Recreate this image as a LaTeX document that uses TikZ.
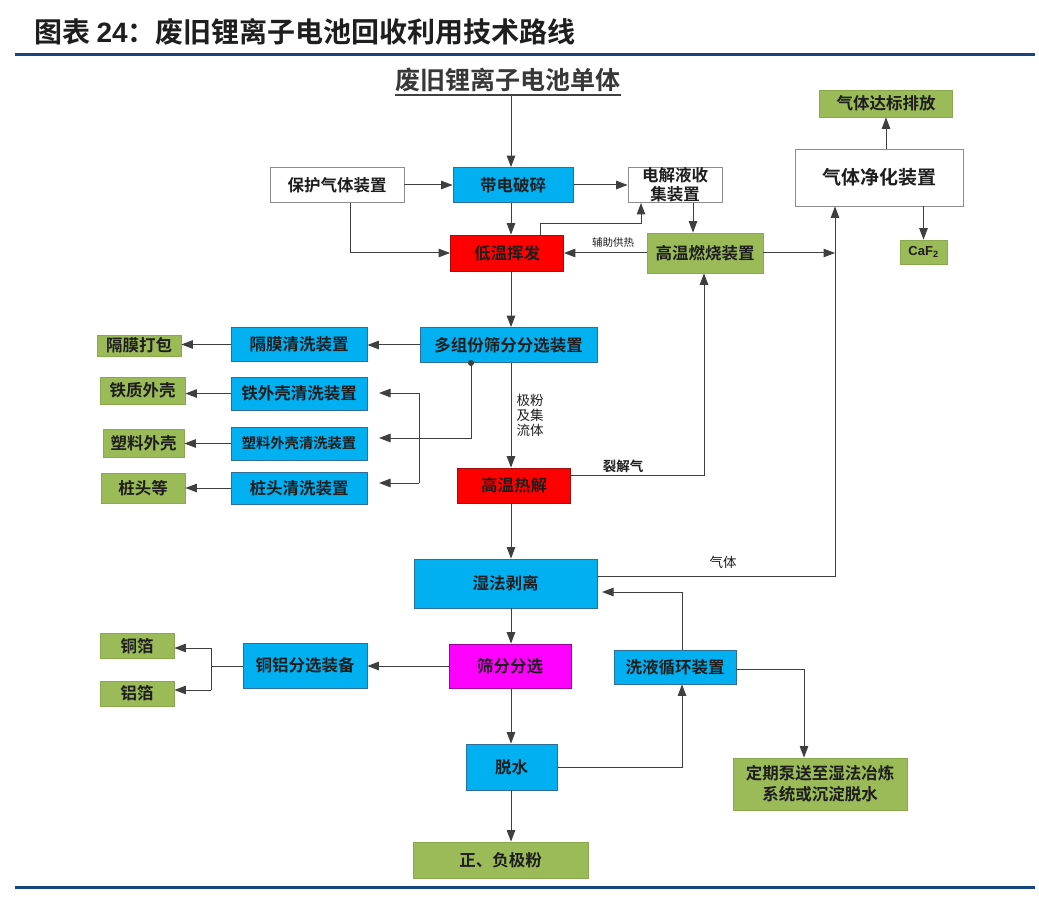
\documentclass[tikz,border=0pt]{standalone}
\usepackage{fontspec}
\setmainfont{Noto Sans CJK SC}[BoldFont={Noto Sans CJK SC Bold}]
\newfontfamily\arialf{Liberation Sans}
\usetikzlibrary{arrows.meta,calc}
\definecolor{cblue}{HTML}{00B0F0}
\definecolor{cblueD}{HTML}{2F6E96}
\definecolor{cred}{HTML}{FF0000}
\definecolor{credD}{HTML}{A01010}
\definecolor{cgreen}{HTML}{9BBB59}
\definecolor{cgreenD}{HTML}{8AA84E}
\definecolor{cmag}{HTML}{FF00FF}
\definecolor{cmagD}{HTML}{A000A0}
\definecolor{cgray}{HTML}{8C8C8C}
\definecolor{lc}{HTML}{3F3F3F}
\definecolor{txt}{HTML}{1E1E1E}
\definecolor{rulec}{HTML}{17467E}
\begin{document}
\begin{tikzpicture}[x=1pt,y=-1pt,
  wh/.style 2 args={minimum width=#1pt,minimum height=#2pt},
  box/.style={inner sep=0pt, line width=0.8pt, text=txt, align=center,
    font=\fontsize{16.5}{19}\selectfont\bfseries},
  bl/.style={box, fill=cblue, draw=cblueD},
  rd/.style={box, fill=cred, draw=credD},
  gr/.style={box, fill=cgreen, draw=cgreenD},
  mg/.style={box, fill=cmag, draw=cmagD},
  wt/.style={box, fill=white, draw=cgray},
  lbl/.style={inner sep=0pt, text=txt, align=center},
  arr/.style={draw=lc, line width=1pt, -{Triangle[length=11.5pt,width=8.5pt]}},
  ln/.style={draw=lc, line width=1pt},
  rule/.style={draw=rulec, line width=2.2pt}]
\useasboundingbox (0,0) rectangle (1039,901);
\fill[white] (0,0) rectangle (1039,901);

% title and rules
\node[lbl, anchor=west, font=\fontsize{28}{30}\selectfont\bfseries] (title) at (34,32)
  {图表 {\arialf 24}：废旧锂离子电池回收利用技术路线};
\draw[rule] (15,54.5) -- (1035,54.5);
\draw[rule] (15,887.5) -- (1035,887.5);

% spine
\coordinate (sp) at (511,0);

% nodes
\node[lbl, font=\fontsize{25}{27}\selectfont\bfseries, text=black!78] (src) at (508,80) {废旧锂离子电池单体};
\draw[draw=black!75, line width=1.3pt] ($(src.south west)+(0,3)$) -- ($(src.south east)+(0,3)$);

\node[wt, wh={134}{35}] (prot) at (337,185) {保护气体装置};
\node[bl, wh={120}{35}] (crush) at (513,185) {带电破碎};
\node[wt, wh={94}{35}, font=\fontsize{16.5}{19.5}\selectfont\bfseries] (elec) at (675,185) {电解液收\\集装置};
\node[rd, wh={113}{36}] (low) at (507,253) {低温挥发};
\node[gr, wh={116}{40}] (high) at (705,253) {高温燃烧装置};
\node[gr, wh={133}{27}] (emit) at (886,103.5) {气体达标排放};
\node[wt, wh={168}{57}, font=\fontsize{19}{21}\selectfont\bfseries] (purify) at (879,177.5) {气体净化装置};
\node[gr, wh={47}{24}, font=\arialf\fontsize{13}{15}\selectfont\bfseries] (caf) at (923.5,252) {CaF\textsubscript{2}};

\node[bl, wh={177}{35}] (multi) at (508.5,345) {多组份筛分分选装置};
\node[bl, wh={136}{34}] (memw) at (299,344.5) {隔膜清洗装置};
\node[gr, wh={84}{21}] (mempk) at (139,345.5) {隔膜打包};
\node[bl, wh={136}{33}] (fe) at (299,393.5) {铁外壳清洗装置};
\node[gr, wh={85}{27}] (feo) at (142.5,390.5) {铁质外壳};
\node[bl, wh={136}{33}, font=\fontsize{14.3}{17}\selectfont\bfseries] (pl) at (299,443.5) {塑料外壳清洗装置};
\node[gr, wh={81}{28}] (plo) at (143.5,443) {塑料外壳};
\node[bl, wh={136}{32}] (pile) at (299,488) {桩头清洗装置};
\node[gr, wh={84}{30}] (pileo) at (143,488) {桩头等};

\node[rd, wh={113}{35}] (pyro) at (514,485.5) {高温热解};
\node[bl, wh={183}{49}] (wet) at (505.5,583.5) {湿法剥离};
\node[mg, wh={122}{44}] (sieve) at (510,666) {筛分分选};
\node[bl, wh={124}{45}] (cual) at (305,665.5) {铜铝分选装备};
\node[gr, wh={74}{25}] (cu) at (137,646) {铜箔};
\node[gr, wh={74}{25}] (al) at (137,693.5) {铝箔};
\node[bl, wh={122}{34}] (wash) at (675,667) {洗液循环装置};
\node[bl, wh={91}{46}] (dew) at (511.5,767) {脱水};
\node[gr, wh={174}{52}, font=\fontsize{16.5}{21}\selectfont\bfseries] (pump) at (820,784) {定期泵送至湿法冶炼\\系统或沉淀脱水};
\node[gr, wh={175}{36}] (powder) at (500.5,860) {正、负极粉};

% labels
\node[lbl, font=\fontsize{10.5}{12}\selectfont] (l1) at (613,243) {辅助供热};
\node[lbl, font=\fontsize{13.5}{15}\selectfont] (l2) at (530,415) {极粉\\及集\\流体};
\node[lbl, font=\fontsize{13.5}{15}\selectfont\bfseries] (l3) at (623,466) {裂解气};
\node[lbl, font=\fontsize{13.5}{15}\selectfont] (l4) at (723,562) {气体};

% helper coordinates
\coordinate (p1) at (350,0);
\coordinate (c540) at (540,224);
\coordinate (c641) at (641,224);
\coordinate (c693) at (693,0);
\coordinate (gv) at (835,576);
\coordinate (dot) at (471,363);
\coordinate (plin) at (379,438);
\coordinate (v1) at (419,393);
\coordinate (v2) at (419,483);
\coordinate (fein) at (379,393);
\coordinate (pilein) at (379,483);
\coordinate (py) at (704,475);
\coordinate (br) at (211,666);
\coordinate (br1) at (211,648);
\coordinate (br2) at (211,690);
\coordinate (wr) at (682,592);
\coordinate (wetin) at (602,592);
\coordinate (pr) at (804,669);

% connectors
\draw[arr] ($(src.south -| sp)+(0,3)$) -- (crush.north -| sp);
\draw[arr] (prot.east) -- (prot.east -| crush.west);
\draw[arr] (crush.east) -- (crush.east -| elec.west);
\draw[arr] (crush.south -| sp) -- (low.north -| sp);
\draw[arr] (prot.south -| p1) |- (low.west);
\draw[arr] (low.north -| c540) -- (c540) -- (c641) -- (elec.south -| c641);
\draw[arr] (elec.south -| c693) -- (high.north -| c693);
\draw[arr] (high.west) -- (low.east);
\draw[arr] (high.east) -- (high.east -| gv);
\draw[arr] (wet.east |- gv) -- (gv) -- (purify.south -| gv);
\draw[arr] (purify.north -| emit.south) -- (emit.south);
\draw[arr] (purify.south -| caf.north) -- (caf.north);

\draw[arr] (low.south -| sp) -- (multi.north -| sp);
\draw[arr] (multi.west) -- (multi.west -| memw.east);
\draw[arr] (memw.west) -- (memw.west -| mempk.east);
\draw[arr] (fe.west) -- (fe.west -| feo.east);
\draw[arr] (pl.west) -- (pl.west -| plo.east);
\draw[arr] (pile.west) -- (pile.west -| pileo.east);
\fill[lc] (dot) circle (3pt);
\draw[arr] (dot) |- (plin);
\draw[ln] (v1) -- (v2);
\draw[arr] (v1) -- (fein);
\draw[arr] (v2) -- (pilein);

\draw[arr] (multi.south -| sp) -- (pyro.north -| sp);
\draw[arr] (pyro.east |- py) -- (py) -- (high.south -| py);
\draw[arr] (pyro.south -| sp) -- (wet.north -| sp);
\draw[arr] (wet.south -| sp) -- (sieve.north -| sp);
\draw[arr] (sieve.west) -- (sieve.west -| cual.east);
\draw[ln] (cual.west |- br) -- (br);
\draw[ln] (br1) -- (br2);
\draw[arr] (br1) -- (cu.east |- br1);
\draw[arr] (br2) -- (al.east |- br2);
\draw[arr] (wash.north -| wr) -- (wr) -- (wetin);
\draw[arr] (wash.east |- pr) -- (pr) -- (pump.north -| pr);
\draw[arr] (sieve.south -| sp) -- (dew.north -| sp);
\draw[arr] (dew.east) -- (dew.east -| wr) -- (wash.south -| wr);
\draw[arr] (dew.south -| sp) -- (powder.north -| sp);
\end{tikzpicture}
\end{document}
